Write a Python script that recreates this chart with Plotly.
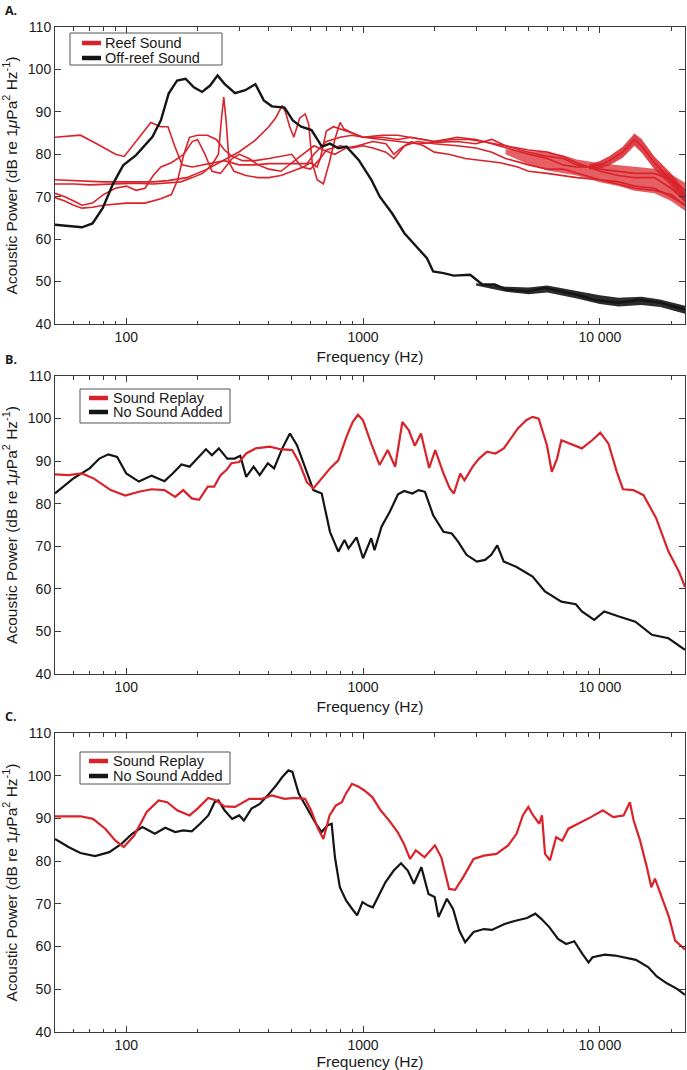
import math
import plotly.graph_objects as go

# ---------------- DATA ----------------
# Panel A - off-reef (black)
a_off_f = [50, 65, 72, 79.5, 88, 97, 110, 129, 140, 151, 164, 178, 193, 209, 226, 243, 260, 288, 318, 351, 381, 412, 466, 505, 548, 606, 670, 725, 786, 851, 960, 1086, 1177, 1326, 1495, 1684, 1862, 1978, 2187, 2414, 2835, 3190, 3600, 4040, 4980, 5830, 6850, 8020, 9470, 12000, 14780, 18050, 22900]
a_off_db = [63.4, 62.8, 63.7, 67.3, 73.1, 77.4, 79.8, 84.1, 88.0, 94.3, 97.4, 97.8, 95.8, 94.7, 96.2, 98.6, 96.6, 94.4, 95.1, 96.5, 92.7, 91.3, 91.0, 88.0, 86.5, 85.7, 81.8, 82.5, 81.4, 81.8, 78.6, 73.9, 70.0, 66.1, 61.4, 58.3, 55.5, 52.4, 52.0, 51.4, 51.6, 49.3, 49.3, 48.1, 47.7, 48.5, 47.7, 46.9, 45.7, 45.0, 45.7, 45.0, 43.4]
# spread (noise) of the off-reef spectrum at high frequency: upper / lower edge
a_off_fuzz_f = [3000, 4000, 5000, 6000, 8000, 10000, 12000, 15000, 18000, 22900]
a_off_fuzz_hi = [49.6, 48.8, 48.6, 49.1, 47.8, 46.8, 46.2, 46.4, 45.8, 44.3]
a_off_fuzz_lo = [49.1, 47.6, 47.0, 47.4, 46.0, 44.7, 44.1, 44.5, 44.0, 42.4]

# Panel A - reef recordings (red), five spectra
a_r1_f = [50, 60, 64, 75, 90, 98, 110, 127, 140, 150, 160, 172, 190, 210, 230, 260, 300, 350, 400, 500, 580, 620, 700, 800, 900, 1000, 1200, 1400, 1600, 1800, 2000, 2400, 2800, 3200, 4000, 5000, 6000, 7000, 8000, 10000, 12000, 14000, 17000, 20000, 22900]
a_r1_db = [84, 84.3, 84.5, 82.5, 80, 79.5, 83, 87.5, 86.5, 86.5, 82, 77.5, 77, 77.5, 78, 78.5, 77.5, 77.5, 77.8, 77.8, 77.8, 80, 83, 84, 84.5, 84, 84.5, 84.5, 84, 83.5, 83, 83.5, 83.5, 83, 82, 80.5, 79.5, 79, 77.5, 76.5, 76, 75.5, 75.5, 74, 71.5]

a_r2_f = [50, 60, 80, 100, 130, 150, 180, 220, 260, 300, 350, 400, 430, 455, 470, 490, 510, 540, 570, 590, 610, 640, 680, 720, 760, 800, 830, 900, 1000, 1200, 1400, 1700, 2000, 2500, 3000, 3500, 4000, 5000, 6000, 7000, 8000, 10000, 12000, 14000, 17000, 20000, 22900]
a_r2_db = [74, 73.8, 73.5, 73.5, 73.5, 73.8, 74.5, 76.5, 78.8, 80.6, 83.3, 86.5, 88.8, 91.5, 90, 86.5, 84, 88.5, 89.5, 87, 78, 74, 73, 78, 83.5, 87.5, 86, 85, 84, 83.5, 83, 82.5, 82.8, 83, 82.5, 83.5, 82, 81, 80.5, 79.5, 78, 76, 75, 74.5, 74.5, 72, 69]

a_r3_f = [50, 60, 70, 90, 110, 130, 150, 170, 190, 210, 230, 245, 252, 258, 264, 272, 285, 320, 360, 400, 450, 500, 560, 600, 640, 660, 700, 800, 900, 1000, 1100, 1250, 1350, 1400, 1500, 1700, 2000, 2500, 3000, 3500, 4000, 5000, 6000, 7000, 8000, 10000, 12000, 14000, 17000, 20000, 22900]
a_r3_db = [73, 73, 72.8, 73, 73.2, 73, 73.2, 73.5, 74.5, 75.5, 77.5, 80, 88, 93.5, 88, 78, 76, 75, 74.5, 74.5, 75, 76, 77, 78, 77, 79, 81, 82, 81.5, 82, 81.5, 80.5, 79, 80, 82, 83, 82.5, 82, 81.5, 80.5, 79, 77.5, 76.5, 76.5, 75.5, 74, 73.5, 72.5, 72, 70, 68]

a_r4_f = [50, 55, 60, 65, 72, 80, 90, 100, 110, 120, 130, 140, 155, 175, 190, 200, 215, 230, 250, 280, 300, 330, 360, 400, 450, 500, 560, 620, 680, 760, 850, 950, 1100, 1250, 1350, 1450, 1600, 1800, 2000, 2300, 2700, 3200, 3800, 4500, 5000, 6000, 7000, 8000, 10000, 12000, 14000, 17000, 20000, 22900]
a_r4_db = [70.8, 70, 69, 68, 68.5, 70.5, 72, 72.5, 71.5, 72, 75, 77, 78, 80, 83, 83.5, 80, 76, 75.5, 79, 80, 79, 77.5, 76.5, 76, 78, 80, 82, 81, 80, 81.5, 82, 83, 82.5, 80, 81.5, 83, 82, 80.5, 80, 79, 78.5, 78, 77, 76, 75.5, 75, 74.5, 74, 73, 72, 71.5, 70.5, 68]

a_r5_f = [50, 55, 60, 65, 72, 80, 100, 120, 140, 155, 165, 175, 185, 200, 220, 240, 260, 280, 310, 350, 400, 450, 500, 550, 600, 660, 700, 750, 800, 900, 1000, 1200, 1400, 1600, 1800, 2000, 2500, 3000, 3500, 4000, 5000, 6000, 7000, 8000, 9000, 10000, 11000, 12500, 14000, 15000, 17000, 20000, 22900]
a_r5_db = [69.8, 69, 68, 67.3, 67.5, 68, 68.5, 68.5, 69.5, 70.5, 74, 80, 84, 84.5, 84.5, 83.5, 81, 79.5, 78.5, 78.5, 79, 79.5, 80, 77, 76.5, 79, 85.5, 86.5, 86, 85, 84, 84, 83.5, 84, 83.5, 83, 84, 83.5, 82.5, 81.5, 80, 79, 77.5, 77, 77, 77.5, 78.5, 80.5, 83.5, 82, 78, 74, 70]

# spread of the reef-sound spectra at high frequency: main band and the 14 kHz hump
a_reef_fuzz_f = [4000, 5000, 6000, 7000, 8000, 10000, 12000, 14000, 17000, 20000, 22900]
a_reef_fuzz_hi = [81.2, 80.8, 80.4, 79.8, 78.8, 77.9, 77.5, 77.0, 76.6, 75.3, 73.3]
a_reef_fuzz_lo = [80.0, 77.6, 76.2, 75.6, 75.0, 73.4, 72.5, 71.4, 70.8, 69.0, 66.7]
a_hump_fuzz_f = [9000, 10000, 11000, 12500, 14000, 15000, 17000, 20000, 22900]
a_hump_fuzz_hi = [77.6, 78.4, 79.6, 81.8, 84.9, 83.6, 79.5, 75.5, 71.5]
a_hump_fuzz_lo = [76.4, 76.6, 77.4, 79.2, 82.0, 80.4, 76.5, 72.5, 68.5]

# Panel B
b_red_f = [50, 57, 65, 73, 86, 99, 113, 128, 145, 161, 174, 189, 203, 221, 235, 250, 265, 278, 300, 321, 352, 404, 447, 502, 536, 580, 617, 669, 725, 786, 851, 904, 952, 1000, 1083, 1174, 1271, 1367, 1466, 1559, 1655, 1757, 1902, 2019, 2187, 2325, 2420, 2572, 2680, 2905, 3090, 3340, 3620, 3930, 4170, 4510, 4890, 5200, 5520, 5980, 6270, 6600, 6880, 7750, 8400, 9280, 10050, 10880, 11800, 12530, 13850, 15300, 17300, 19500, 21600, 22900]
b_red_db = [86.9, 86.7, 87.1, 85.9, 83.2, 81.9, 82.8, 83.4, 83.2, 81.6, 83.2, 81.25, 80.9, 84, 84, 86.7, 87.9, 89.5, 89.8, 91.8, 93, 93.4, 92.8, 92.6, 89.8, 85, 83.6, 85.9, 88.3, 90.2, 95.7, 99.2, 100.9, 99.6, 94.1, 89.1, 92.6, 88.7, 99.2, 97.3, 93.6, 96.5, 88.4, 92.6, 87.1, 83.6, 82.4, 87.1, 85.5, 88.7, 90.6, 92.2, 91.8, 93, 94.9, 97.7, 99.6, 100.4, 100, 93.75, 87.5, 90.6, 94.9, 93.75, 93, 94.9, 96.7, 94.1, 87.5, 83.4, 83.2, 82, 76.6, 68.75, 64, 60.5]

b_blk_f = [50, 59.6, 70, 77, 84, 91.5, 100, 113, 128, 145, 157, 171, 185, 199, 217, 230, 246, 267, 287, 303, 321, 345, 366, 396, 421, 456, 491, 526, 570, 617, 669, 697, 725, 786, 835, 868, 939, 1000, 1083, 1118, 1197, 1297, 1405, 1491, 1616, 1716, 1826, 1978, 2187, 2370, 2520, 2734, 3026, 3277, 3480, 3690, 3930, 4433, 5203, 5864, 6880, 7920, 8400, 9470, 10440, 12050, 14130, 16600, 19500, 22900]
b_blk_db = [82.4, 85.9, 88.3, 90.6, 91.6, 91, 87.1, 85.2, 86.6, 85.3, 87.1, 89.2, 88.7, 90.6, 92.8, 91.4, 93, 90.6, 90.6, 91.25, 86.3, 88.7, 86.7, 89.5, 88.3, 93, 96.5, 93.75, 88.3, 83.2, 82.4, 78.1, 73.4, 68.75, 71.5, 69.5, 72.1, 67.2, 71.9, 69.1, 74.6, 78.1, 82.2, 83, 82.4, 83.2, 82.8, 77.3, 73.4, 73, 71.1, 68, 66.4, 66.8, 68, 70.2, 66.4, 65.2, 62.9, 59.4, 57, 56.4, 54.7, 52.7, 54.7, 53.5, 52.3, 49.2, 48.4, 45.7]

# Panel C
c_red_f = [50, 64, 72.3, 81.5, 90, 97.6, 108, 122, 137, 149, 164, 185, 200, 222, 240, 260, 288, 331, 374, 412, 466, 515, 569, 603, 641, 680, 722, 767, 814, 846, 898, 953, 1010, 1094, 1186, 1290, 1400, 1487, 1580, 1670, 1819, 2012, 2140, 2310, 2450, 2650, 2930, 3240, 3660, 4100, 4450, 4730, 4990, 5230, 5550, 5700, 5870, 6160, 6540, 6940, 7370, 8140, 9170, 10300, 11400, 12600, 13400, 13900, 14800, 15800, 16500, 17100, 18100, 19600, 20800, 22900]
c_red_db = [90.5, 90.5, 89.9, 87.6, 84.8, 83.3, 86, 91.5, 94.2, 93.8, 91.9, 90.7, 92.3, 94.8, 94.2, 92.8, 92.7, 94.6, 94.6, 95.4, 94.6, 94.8, 94.6, 91.9, 88, 85.2, 90.7, 93, 93.8, 95.8, 98.1, 97.5, 96.6, 95, 91.9, 89.5, 86.8, 84.1, 80.5, 82.5, 80.9, 83.7, 80.9, 73.5, 73.3, 76.25, 80.5, 81.3, 81.7, 83.7, 86.4, 90.7, 92.7, 90.7, 88.75, 90.7, 81.7, 80.2, 85.6, 84.8, 87.6, 88.75, 90.3, 91.9, 90.3, 90.7, 93.8, 89.5, 84.8, 78.6, 73.9, 75.9, 72.3, 66.9, 61.4, 59.3]

c_blk_f = [50, 57, 64, 73.8, 84.8, 95.7, 105.8, 117, 132, 146, 161, 174, 189, 205, 222, 236, 245, 260, 280, 300, 314, 338, 366, 396, 429, 456, 484, 503, 535, 579, 627, 668, 709, 737, 761, 798, 848, 900, 944, 995, 1050, 1100, 1171, 1245, 1348, 1447, 1545, 1640, 1763, 1890, 2006, 2084, 2260, 2400, 2550, 2700, 2930, 3240, 3500, 3960, 4450, 4930, 5340, 5660, 6130, 6660, 7210, 7800, 8440, 8960, 9320, 10500, 11600, 12800, 14200, 16000, 17400, 19200, 21200, 22900]
c_blk_db = [85.2, 83.3, 81.9, 81.2, 82.1, 84.1, 86.4, 88, 86.4, 87.8, 86.8, 87.2, 87, 88.75, 90.7, 93.8, 94.2, 91.9, 89.9, 90.7, 89.5, 92.3, 93.4, 95.4, 97.7, 99.7, 101.25, 100.9, 95.8, 92.3, 89.1, 86.8, 88.4, 88.75, 80.9, 73.9, 70.8, 68.8, 67.3, 70.4, 69.6, 69.2, 72.3, 75.1, 77.8, 79.5, 77.8, 74.7, 78.6, 72.3, 71.6, 66.9, 71.2, 68.8, 63.75, 61, 63.4, 64.1, 63.9, 65.3, 66.1, 66.7, 67.7, 66.5, 64.5, 61.8, 60.6, 61.25, 58.3, 56.3, 57.5, 58.1, 57.9, 57.5, 56.9, 55.2, 53, 51.4, 50.1, 48.7]

x_tick_vals = [100, 1000, 10000]
x_tick_text = ["100", "1000", "10 000"]
x_minor_vals = [60, 70, 80, 90, 200, 300, 400, 500, 600, 700, 800, 900,
                2000, 3000, 4000, 5000, 6000, 7000, 8000, 9000, 20000]
y_tick_vals = [40, 50, 60, 70, 80, 90, 100, 110]

legend_a = ["Reef Sound", "Off-reef Sound"]
legend_bc = ["Sound Replay", "No Sound Added"]
panel_labels = ["A.", "B.", "C."]

# ---------------- LAYOUT ----------------
W, H = 687, 1070
ML, MR = 55, 2
PW = W - ML - MR
RED = "#d9232a"
BLACK = "#151515"
FONT = "Liberation Sans, Arial, Helvetica, sans-serif"


def px(x):
    return (x - ML) / PW


def py(y):
    return 1 - y / H


panels = [  # (top px, bottom px)
    (27, 324),
    (376, 674),
    (733, 1032),
]

fig = go.Figure()


def band(f, hi, lo, color, xa, ya):
    fig.add_trace(go.Scatter(x=list(f) + list(f)[::-1], y=list(hi) + list(lo)[::-1],
                             mode="lines", fill="toself", fillcolor=color,
                             line=dict(width=0, color=color), hoverinfo="skip",
                             showlegend=False, xaxis=xa, yaxis=ya))


# Panel A traces
band(a_reef_fuzz_f, a_reef_fuzz_hi, a_reef_fuzz_lo, "rgba(217,35,42,0.72)", "x", "y")
band(a_hump_fuzz_f, a_hump_fuzz_hi, a_hump_fuzz_lo, "rgba(217,35,42,0.85)", "x", "y")
for f, d in [(a_r1_f, a_r1_db), (a_r2_f, a_r2_db), (a_r3_f, a_r3_db),
             (a_r4_f, a_r4_db), (a_r5_f, a_r5_db)]:
    fig.add_trace(go.Scatter(x=f, y=d, mode="lines", line=dict(color=RED, width=1.6),
                             showlegend=False, xaxis="x", yaxis="y"))
band(a_off_fuzz_f, a_off_fuzz_hi, a_off_fuzz_lo, "rgba(21,21,21,0.9)", "x", "y")
fig.add_trace(go.Scatter(x=a_off_f, y=a_off_db, mode="lines", line=dict(color=BLACK, width=2.4),
                         showlegend=False, xaxis="x", yaxis="y"))

# Panel B traces
fig.add_trace(go.Scatter(x=b_blk_f, y=b_blk_db, mode="lines", line=dict(color=BLACK, width=2.2),
                         showlegend=False, xaxis="x2", yaxis="y2"))
fig.add_trace(go.Scatter(x=b_red_f, y=b_red_db, mode="lines", line=dict(color=RED, width=2.2),
                         showlegend=False, xaxis="x2", yaxis="y2"))

# Panel C traces
fig.add_trace(go.Scatter(x=c_blk_f, y=c_blk_db, mode="lines", line=dict(color=BLACK, width=2.2),
                         showlegend=False, xaxis="x3", yaxis="y3"))
fig.add_trace(go.Scatter(x=c_red_f, y=c_red_db, mode="lines", line=dict(color=RED, width=2.2),
                         showlegend=False, xaxis="x3", yaxis="y3"))

axis_common = dict(showline=True, linecolor="#3a3a3a", linewidth=1, mirror="ticks",
                   ticks="inside", tickcolor="#3a3a3a", showgrid=False, zeroline=False,
                   automargin=False,
                   tickfont=dict(family=FONT, size=14, color="#1a1a1a"))

layout = dict(width=W, height=H, margin=dict(l=ML, r=MR, t=0, b=0),
              paper_bgcolor="white", plot_bgcolor="white", showlegend=False)

shapes = []
annotations = []
for i, (top, bot) in enumerate(panels):
    sfx = "" if i == 0 else str(i + 1)
    layout["xaxis" + sfx] = dict(
        axis_common, type="log", range=[math.log10(50), math.log10(22900)],
        anchor="y" + sfx, domain=[0, 1], tickmode="array", tickvals=x_tick_vals,
        ticktext=x_tick_text, ticklen=6,
        minor=dict(tickmode="array", tickvals=x_minor_vals, ticks="inside", ticklen=3.5,
                   tickcolor="#3a3a3a", showgrid=False),
        title=dict(text="Frequency (Hz)", font=dict(family=FONT, size=15.5, color="#1a1a1a"),
                   standoff=7))
    layout["yaxis" + sfx] = dict(
        axis_common, range=[40, 110], anchor="x" + sfx, domain=[py(bot), py(top)],
        tickmode="array", tickvals=y_tick_vals, ticklen=6,
        title=dict(text="Acoustic Power (dB re 1<i>μ</i>Pa<sup>2</sup> Hz<sup>-1</sup>)",
                   font=dict(family=FONT, size=15.5, color="#1a1a1a"), standoff=10))
    # panel letter
    annotations.append(dict(text="<b>" + panel_labels[i] + "</b>", xref="paper", yref="paper",
                            x=px(3), y=py(top - 27), xanchor="left", yanchor="top",
                            showarrow=False, font=dict(family="Open Sans, sans-serif", size=12.5,
                                                       color="#1a1a1a")))

# manual legends: (box x0, y0, x1, y1, sample x0, x1, row y1, row y2, text x, labels)
legend_specs = [
    (70, 33, 222, 65, 82, 101, 43, 58, 103, legend_a),
    (80, 389, 230, 423, 89, 108, 398, 412, 111, legend_bc),
    (80, 752, 230, 784, 89, 108, 761, 776, 111, legend_bc),
]
for (bx0, by0, bx1, by1, sx0, sx1, ry1, ry2, tx, labels) in legend_specs:
    shapes.append(dict(type="rect", xref="paper", yref="paper", x0=px(bx0), x1=px(bx1),
                       y0=py(by1), y1=py(by0), line=dict(color="#555555", width=1),
                       fillcolor="white", layer="above"))
    for ry, col, lab in [(ry1, RED, labels[0]), (ry2, BLACK, labels[1])]:
        shapes.append(dict(type="line", xref="paper", yref="paper", x0=px(sx0), x1=px(sx1),
                           y0=py(ry), y1=py(ry), line=dict(color=col, width=4.5), layer="above"))
        annotations.append(dict(text=lab, xref="paper", yref="paper", x=px(tx), y=py(ry),
                                xanchor="left", yanchor="middle", showarrow=False,
                                font=dict(family=FONT, size=14.5, color="#1a1a1a")))

layout["shapes"] = shapes
layout["annotations"] = annotations
fig.update_layout(**layout)
# remove the page's default body margin so the figure fills the window exactly
fig.write_html("out.html", config={"displayModeBar": False},
               post_script="document.body.style.margin='0';document.body.style.overflow='hidden';")
